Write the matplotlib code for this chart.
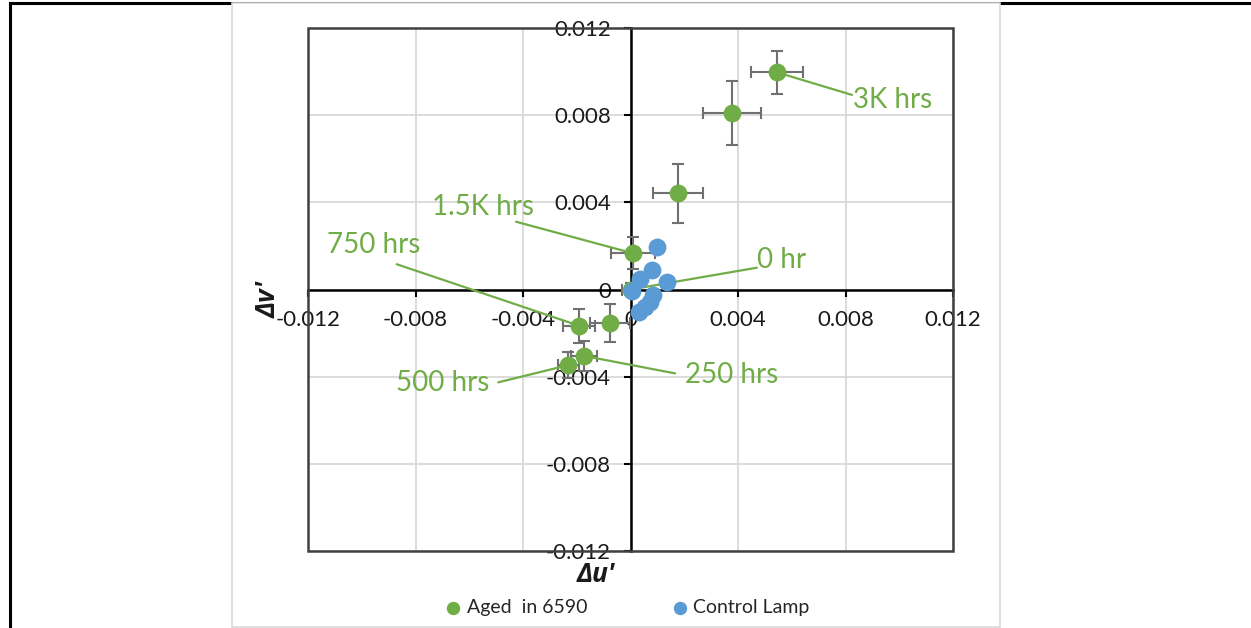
import matplotlib
matplotlib.use("Agg")
import matplotlib.pyplot as plt
from matplotlib.lines import Line2D
from matplotlib.patches import Rectangle

# ---------------- data ----------------
tick_values = [-0.012, -0.008, -0.004, 0, 0.004, 0.008, 0.012]
tick_labels = ["-0.012", "-0.008", "-0.004", "0", "0.004", "0.008", "0.012"]

aged_u = [0.0, -0.00172, -0.00231, -0.00192, 0.00010, -0.00076, 0.00176, 0.00379, 0.00544]
aged_v = [0.0, -0.00305, -0.00347, -0.00166, 0.00166, -0.00152, 0.00441, 0.00809, 0.00997]
aged_uerr = [0.0003, 0.00049, 0.00040, 0.00060, 0.00082, 0.00074, 0.00092, 0.00108, 0.00096]
aged_verr = [0.0003, 0.00068, 0.00060, 0.00078, 0.00073, 0.00087, 0.00134, 0.00148, 0.00099]

control_u = [0.00100, 0.00081, 0.00035, 0.00135, 0.00007, 0.00083, 0.00073, 0.00054, 0.00033]
control_v = [0.00196, 0.00089, 0.00047, 0.00036, -0.00006, -0.00025, -0.00056, -0.00079, -0.00102]

# annotation: label, index of point, text centre, leader line start
ann_labels = ["0 hr", "250 hrs", "500 hrs", "750 hrs", "1.5K hrs", "3K hrs"]
ann_index = [0, 1, 2, 3, 4, 8]
ann_text_u = [0.00563, 0.00377, -0.00697, -0.00957, -0.00548, 0.00977]
ann_text_v = [0.00135, -0.00392, -0.00430, 0.00204, 0.00380, 0.00870]
ann_line_u = [0.00470, 0.00166, -0.00492, -0.00870, -0.00426, 0.00824]
ann_line_v = [0.00100, -0.00385, -0.00426, 0.00116, 0.00311, 0.00893]

series_labels = ["Aged  in 6590", "Control Lamp"]

GREEN = "#70AD47"
BLUE = "#5B9BD5"
FONT = ["Lato", "DejaVu Sans"]

plt.rcParams["font.family"] = FONT

W, H = 1251, 628
fig = plt.figure(figsize=(W / 100, H / 100), dpi=100)

# outer page frame lines
fig.add_artist(Line2D([10 / W, 1.0], [1 - 3 / H, 1 - 3 / H], color="black", lw=2.2, zorder=-10))
fig.add_artist(Line2D([10 / W, 10 / W], [0, 1 - 3 / H], color="black", lw=2.2, zorder=-10))
# chart area
fig.add_artist(Rectangle((232 / W, 1 / H), (1000 - 232) / W, (625 - 1) / H,
                         facecolor="white", edgecolor="#d9d9d9", lw=1.2, zorder=-5))

ax = fig.add_axes([308 / W, 1 - 551 / H, (953 - 308) / W, (551 - 28) / H])
ax.set_zorder(2)
ax.set_xlim(-0.012, 0.012)
ax.set_ylim(-0.012, 0.012)

ax.set_xticks(tick_values)
ax.set_yticks(tick_values)
ax.set_xticklabels(tick_labels)
ax.set_yticklabels(tick_labels)
ax.grid(True, color="#d9d9d9", lw=1.3, zorder=0)
ax.set_axisbelow(True)

ax.spines["left"].set_position(("data", 0))
ax.spines["bottom"].set_position(("data", 0))
for s in ["left", "bottom"]:
    ax.spines[s].set_linewidth(1.8)
    ax.spines[s].set_color("black")
    ax.spines[s].set_zorder(2)
for s in ["top", "right"]:
    ax.spines[s].set_visible(False)
ax.add_patch(Rectangle((0, 0), 1, 1, transform=ax.transAxes, fill=False,
                       edgecolor="#404040", lw=1.8, zorder=3, clip_on=False))

ax.tick_params(axis="both", direction="out", length=5, width=1.5, color="black",
               labelsize=16, labelcolor="#1a1a1a")
ax.tick_params(axis="x", pad=10)
ax.tick_params(axis="y", pad=9)

# error bars
ax.errorbar(aged_u, aged_v, xerr=aged_uerr, yerr=aged_verr, fmt="none",
            ecolor="#707070", elinewidth=1.5, capsize=4, capthick=1.5, zorder=3)

# leader lines
for i, idx in enumerate(ann_index):
    ax.annotate("", xy=(aged_u[idx], aged_v[idx]), xytext=(ann_line_u[i], ann_line_v[i]),
                arrowprops=dict(arrowstyle="-", color=GREEN, lw=1.6, shrinkA=0, shrinkB=0),
                zorder=4)

h_aged = ax.scatter(aged_u, aged_v, s=165, color=GREEN, zorder=5, linewidths=0,
                    label=series_labels[0])
h_ctrl = ax.scatter(control_u, control_v, s=165, color=BLUE, zorder=6, linewidths=0,
                    label=series_labels[1])

for i in range(len(ann_labels)):
    ax.text(ann_text_u[i], ann_text_v[i], ann_labels[i], color=GREEN, fontsize=20,
            ha="center", va="center", zorder=7)

# axis titles
title_font = ["Open Sans", "DejaVu Sans"]
fig.text(596 / W, 1 - 574 / H, "\u0394u'", fontsize=19, fontweight="bold",
         fontstyle="italic", family=title_font, ha="center", va="center", color="#1a1a1a")
fig.text(268 / W, 1 - 299 / H, "\u0394v'", fontsize=19, fontweight="bold",
         fontstyle="italic", family=title_font, ha="center", va="center", rotation=90,
         color="#1a1a1a")

fig.legend(handles=[h_aged, h_ctrl], labels=series_labels, loc="center",
           bbox_to_anchor=(628 / W, 1 - 608 / H), ncol=2, frameon=False,
           fontsize=14, handlelength=0.7, handletextpad=0.35, columnspacing=4.4,
           markerscale=0.75, labelcolor="#262626")

fig.savefig("out.png", dpi=100)
